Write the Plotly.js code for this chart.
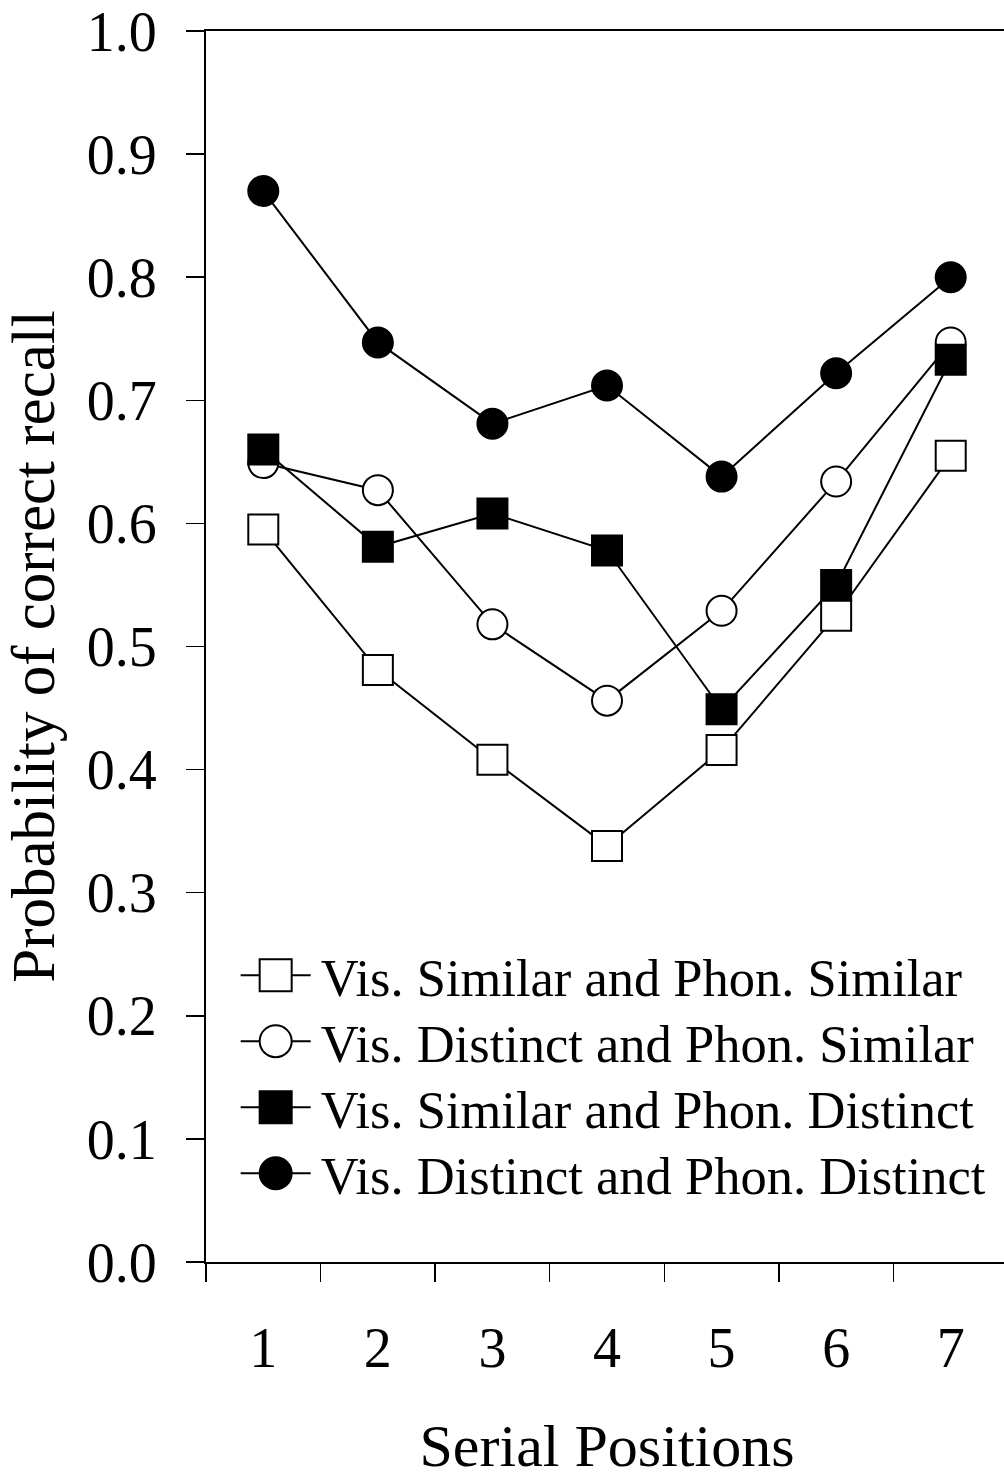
<!DOCTYPE html>
<html>
<head>
<meta charset="utf-8">
<script src="https://cdn.plot.ly/plotly-3.0.1.min.js"></script>
<style>
html,body{margin:0;padding:0;overflow:hidden;background:#fff;}
#chart{width:1010px;height:1479px;}
</style>
</head>
<body>
<div id="chart"></div>
<script>
const positions = ['1','2','3','4','5','6','7'];
const visSimPhonSim = [0.595, 0.481, 0.408, 0.338, 0.416, 0.525, 0.655];
const visDisPhonSim = [0.649, 0.627, 0.518, 0.456, 0.529, 0.634, 0.747];
const visSimPhonDis = [0.660, 0.581, 0.608, 0.578, 0.449, 0.550, 0.733];
const visDisPhonDis = [0.870, 0.747, 0.681, 0.712, 0.638, 0.722, 0.800];
const seriesNames = [
  'Vis. Similar and Phon. Similar',
  'Vis. Distinct and Phon. Similar',
  'Vis. Similar and Phon. Distinct',
  'Vis. Distinct and Phon. Distinct'
];
const yTicks = [0,0.1,0.2,0.3,0.4,0.5,0.6,0.7,0.8,0.9,1.0];
const yTickText = yTicks.map(v => v.toFixed(1));

const FONT = 'Liberation Serif, Times New Roman, serif';

function mk(y, name, symbol, fill){
  return {
    x: positions, y: y, name: name, type: 'scatter', mode: 'lines+markers',
    line: {color: '#000', width: 2},
    marker: {symbol: symbol, size: 30, color: fill, line: {color: '#000', width: 2}}
  };
}
const data = [
  mk(visSimPhonSim, seriesNames[0], 'square', '#fff'),
  mk(visDisPhonSim, seriesNames[1], 'circle', '#fff'),
  mk(visSimPhonDis, seriesNames[2], 'square', '#000'),
  mk(visDisPhonDis, seriesNames[3], 'circle', '#000')
];

const layout = {
  width: 1010, height: 1479,
  margin: {l: 206, r: 2, t: 31, b: 217},
  paper_bgcolor: '#fff', plot_bgcolor: '#fff',
  font: {family: FONT, color: '#000', size: 56},
  showlegend: true,
  legend: {
    x: 0.037, y: 0.266, xanchor: 'left', yanchor: 'top',
    bgcolor: 'rgba(0,0,0,0)', borderwidth: 0,
    font: {family: FONT, size: 52.5, color: '#000'},
    itemwidth: 75
  },
  xaxis: {
    type: 'category', range: [-0.5, 6.5],
    tickson: 'boundaries', ticks: 'outside', ticklen: 18, tickwidth: 1.5, tickcolor: '#000',
    showline: true, linecolor: '#000', linewidth: 2, mirror: true,
    showgrid: false, zeroline: false,
    tickfont: {family: FONT, size: 56},
    ticklabelstandoff: 36,
    title: {text: 'Serial Positions', font: {family: FONT, size: 60}, standoff: 46}
  },
  yaxis: {
    range: [0, 1], tickvals: yTicks, ticktext: yTickText,
    ticks: 'outside', ticklen: 18, tickwidth: 1.5, tickcolor: '#000',
    showline: true, linecolor: '#000', linewidth: 2, mirror: true,
    showgrid: false, zeroline: false,
    tickfont: {family: FONT, size: 56},
    ticklabelstandoff: 18,
    title: {text: 'Probability of correct recall', font: {family: FONT, size: 61}, standoff: 20}
  }
};

Plotly.newPlot('chart', data, layout, {staticPlot: true}).then(function(){
  // enlarge legend symbols to match marker size in the plot, and tighten row spacing
  var rows = document.querySelectorAll('.legend .traces');
  var y0 = null;
  rows.forEach(function(tr, i){
    tr.querySelectorAll('.legendpoints path.scatterpts').forEach(function(p){
      p.setAttribute('transform', 'translate(40,0) scale(2)');
      p.style.strokeWidth = '1px';
    });
    tr.querySelectorAll('.legendlines path').forEach(function(p){
      p.setAttribute('d', 'M5,0h70');
    });
    var t = tr.getAttribute('transform') || '';
    var m = t.match(/translate\(\s*([-\d.]+)[ ,]+([-\d.]+)\s*\)/);
    if(m){
      var x = parseFloat(m[1]), y = parseFloat(m[2]);
      if(y0 === null) y0 = y;
      tr.setAttribute('transform', 'translate(' + x + ',' + (y0 + i*66) + ')');
    }
  });
});
</script>
</body>
</html>
